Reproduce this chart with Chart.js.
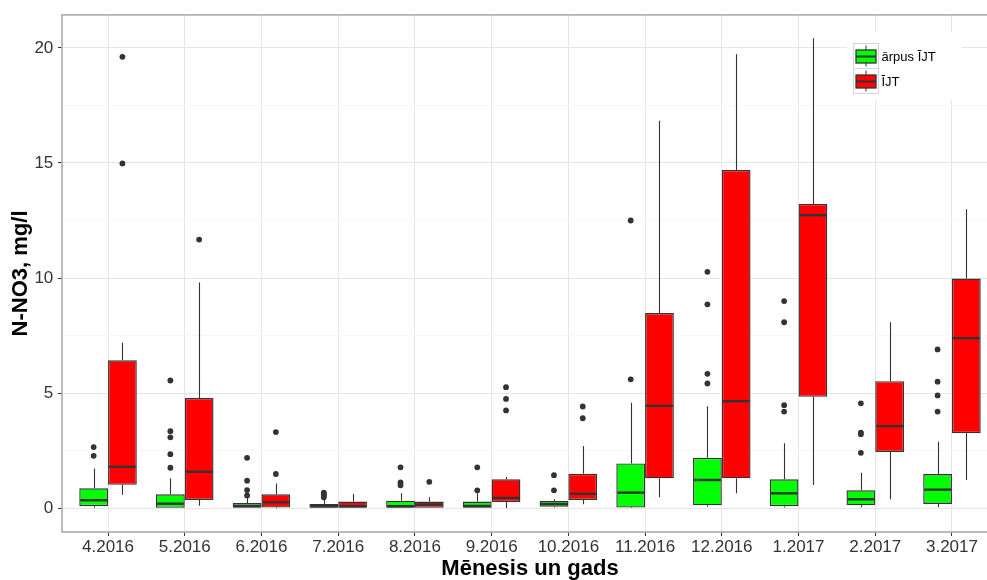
<!DOCTYPE html>
<html>
<head>
<meta charset="utf-8">
<title>N-NO3 pa mēnešiem</title>
<script src="https://cdn.jsdelivr.net/npm/chart.js@4"></script>
<style>
  html, body { margin: 0; padding: 0; overflow: hidden; background: #fff; }
  #wrap { position: relative; width: 1010px; height: 580px; }
</style>
</head>
<body>
<div id="wrap"><canvas id="chart"></canvas></div>
<script>
// Months on the x axis
const months = ['4.2016', '5.2016', '6.2016', '7.2016', '8.2016', '9.2016',
                '10.2016', '11.2016', '12.2016', '1.2017', '2.2017', '3.2017'];

// Y axis breaks (major labelled, minor only as grid lines)
const yMajorTicks = [0, 5, 10, 15, 20];
const yMinorTicks = [2.5, 7.5, 12.5, 17.5];

// "ārpus ĪJT" box statistics, mg/l
const arpusLow    = [0.02, 0.00, 0.00, 0.00, 0.00, 0.00, 0.03, 0.01, 0.07, 0.03, 0.05, 0.04];
const arpusQ1     = [0.09, 0.00, 0.00, 0.00, 0.00, 0.00, 0.07, 0.03, 0.13, 0.09, 0.13, 0.19];
const arpusMedian = [0.35, 0.20, 0.10, 0.09, 0.09, 0.10, 0.19, 0.68, 1.23, 0.65, 0.39, 0.81];
const arpusQ3     = [0.87, 0.61, 0.23, 0.19, 0.33, 0.29, 0.33, 1.95, 2.19, 1.26, 0.78, 1.49];
const arpusHigh   = [1.73, 1.30, 0.65, 0.36, 0.65, 0.68, 0.40, 4.58, 4.43, 2.82, 1.54, 2.89];
const arpusOutliers = [
  [2.66, 2.28],
  [5.55, 3.35, 3.08, 2.35, 1.76],
  [2.19, 1.20, 0.79, 0.56],
  [0.68, 0.62, 0.55, 0.48],
  [1.78, 1.12, 1.00],
  [1.78, 0.78],
  [1.44, 0.78],
  [12.50, 5.60],
  [10.27, 8.86, 5.84, 5.42],
  [9.00, 8.08, 4.48, 4.20],
  [4.56, 3.28, 3.22, 2.41],
  [6.90, 5.50, 4.90, 4.20]
];

// "ĪJT" box statistics, mg/l
const ijtLow    = [0.59, 0.11, 0.00, 0.00, 0.00, 0.01, 0.17, 0.48, 0.65, 1.01, 0.39, 1.23];
const ijtQ1     = [1.02, 0.36, 0.03, 0.00, 0.00, 0.27, 0.36, 1.30, 1.30, 4.84, 2.45, 3.26];
const ijtMedian = [1.80, 1.59, 0.26, 0.09, 0.16, 0.45, 0.63, 4.45, 4.65, 12.73, 3.57, 7.39];
const ijtQ3     = [6.43, 4.79, 0.61, 0.29, 0.29, 1.26, 1.50, 8.48, 14.69, 13.22, 5.52, 9.98];
const ijtHigh   = [7.19, 9.81, 1.08, 0.62, 0.48, 1.36, 2.71, 16.83, 19.72, 20.42, 8.08, 12.99];
const ijtOutliers = [
  [19.61, 14.98],
  [11.67],
  [3.31, 1.49],
  [],
  [1.15],
  [5.26, 4.75, 4.25],
  [4.42, 3.91],
  [], [], [], [], []
];

const FONT = "'Liberation Sans', Arial, sans-serif";
const INK = '#333333';
const GREEN = '#00ff00';
const RED = '#ff0000';

Chart.defaults.font.family = FONT;

const series = [
  { label: 'ārpus ĪJT', color: GREEN, q1: arpusQ1, q3: arpusQ3, median: arpusMedian, low: arpusLow, high: arpusHigh, outliers: arpusOutliers },
  { label: 'ĪJT',       color: RED,   q1: ijtQ1,   q3: ijtQ3,   median: ijtMedian,   low: ijtLow,   high: ijtHigh,   outliers: ijtOutliers }
];

// Whiskers behind the boxes; medians and outlier dots on top
const boxplotParts = {
  id: 'boxplotParts',
  beforeDatasetsDraw(chart) {
    const { ctx, chartArea, scales: { y } } = chart;
    ctx.save();
    ctx.beginPath();
    ctx.rect(chartArea.left, chartArea.top, chartArea.right - chartArea.left, chartArea.bottom - chartArea.top);
    ctx.clip();
    ctx.strokeStyle = INK;
    ctx.lineWidth = 1.1;
    series.forEach((s, di) => {
      chart.getDatasetMeta(di).data.forEach((bar, i) => {
        const x = Math.round(bar.x) + 0.5;
        ctx.beginPath();
        ctx.moveTo(x, y.getPixelForValue(s.q3[i]));
        ctx.lineTo(x, y.getPixelForValue(s.high[i]));
        ctx.moveTo(x, y.getPixelForValue(s.q1[i]));
        ctx.lineTo(x, y.getPixelForValue(s.low[i]));
        ctx.stroke();
      });
    });
    ctx.restore();
  },
  afterDatasetsDraw(chart) {
    const { ctx, scales: { y } } = chart;
    ctx.save();
    series.forEach((s, di) => {
      chart.getDatasetMeta(di).data.forEach((bar, i) => {
        const half = bar.width / 2;
        const my = y.getPixelForValue(s.median[i]);
        ctx.strokeStyle = INK;
        ctx.lineWidth = 2.4;
        ctx.beginPath();
        ctx.moveTo(bar.x - half + 1, my);
        ctx.lineTo(bar.x + half - 1, my);
        ctx.stroke();
        ctx.fillStyle = INK;
        s.outliers[i].forEach(v => {
          ctx.beginPath();
          ctx.arc(bar.x, y.getPixelForValue(v), 2.9, 0, Math.PI * 2);
          ctx.fill();
        });
      });
    });
    ctx.restore();
  }
};

// Panel frame and the boxplot-glyph legend
const panelDecor = {
  id: 'panelDecor',
  afterDraw(chart) {
    const { ctx, chartArea: a } = chart;
    ctx.save();
    ctx.strokeStyle = '#ababab';
    ctx.lineWidth = 1.6;
    ctx.strokeRect(a.left, a.top, a.right - a.left, a.bottom - a.top);

    // legend panel
    const lx = 847, ly = 32;
    ctx.fillStyle = '#ffffff';
    ctx.fillRect(lx, ly, 115, 68);
    const keyX = 853.5, keyW = 25, keyH = 25;
    series.forEach((s, k) => {
      const ky = 43.5 + k * keyH;
      ctx.fillStyle = '#ffffff';
      ctx.fillRect(keyX, ky, keyW, keyH);
      ctx.strokeStyle = '#d6d6d6';
      ctx.lineWidth = 1;
      ctx.strokeRect(keyX, ky, keyW, keyH);
      const cx = keyX + keyW / 2;
      ctx.strokeStyle = INK;
      ctx.lineWidth = 1;
      ctx.beginPath();
      ctx.moveTo(cx, ky + 2);
      ctx.lineTo(cx, ky + keyH - 2);
      ctx.stroke();
      ctx.fillStyle = s.color;
      ctx.fillRect(keyX + 2.5, ky + 6.5, keyW - 5, 13);
      ctx.lineWidth = 1.3;
      ctx.strokeRect(keyX + 2.5, ky + 6.5, keyW - 5, 13);
      ctx.lineWidth = 2;
      ctx.beginPath();
      ctx.moveTo(keyX + 2.5, ky + 13);
      ctx.lineTo(keyX + keyW - 2.5, ky + 13);
      ctx.stroke();
      ctx.fillStyle = '#000';
      ctx.font = '13px ' + FONT;
      ctx.textBaseline = 'middle';
      ctx.textAlign = 'left';
      ctx.fillText(s.label, keyX + keyW + 3, ky + keyH / 2 + 1);
    });
    ctx.restore();
  }
};

new Chart(document.getElementById('chart'), {
  type: 'bar',
  data: {
    datasets: series.map(s => ({
      label: s.label,
      data: months.map((m, i) => ({ x: i, y: [s.q1[i], s.q3[i]] })),
      backgroundColor: s.color,
      borderColor: INK,
      borderWidth: 1.4,
      borderSkipped: false,
      categoryPercentage: 0.75,
      barPercentage: 1
    }))
  },
  options: {
    responsive: true,
    maintainAspectRatio: false,
    animation: false,
    layout: { padding: { top: 14, right: 12, left: 0, bottom: 0 } },
    plugins: { legend: { display: false }, tooltip: { enabled: false } },
    scales: {
      x: {
        type: 'linear',
        min: -0.6,
        max: 11.6,
        offset: false,
        afterBuildTicks: s => { s.ticks = months.map((m, i) => ({ value: i })); },
        afterFit: s => { s.height = 48; },
        grid: { offset: false, color: '#e5e5e5', lineWidth: 1, tickColor: INK, tickLength: 4 },
        border: { display: false },
        ticks: {
          autoSkip: false, maxRotation: 0, minRotation: 0, padding: 1.5,
          color: INK, font: { size: 17 },
          callback: v => months[Math.round(v)]
        },
        title: {
          display: true, text: 'Mēnesis un gads', color: '#000',
          font: { size: 22, weight: 'bold', lineHeight: 1 },
          padding: { top: 0, bottom: 0 }
        }
      },
      y: {
        min: -1.03,
        max: 21.43,
        afterBuildTicks: s => {
          s.ticks = yMajorTicks.concat(yMinorTicks).sort((a, b) => a - b).map(v => ({ value: v }));
        },
        afterFit: s => { s.width = 62; },
        grid: {
          color: c => (c.tick && yMajorTicks.includes(c.tick.value)) ? '#e5e5e5' : '#f7f7f7',
          tickColor: c => (c.tick && yMajorTicks.includes(c.tick.value)) ? INK : 'rgba(0,0,0,0)',
          tickLength: 4
        },
        border: { display: false },
        ticks: {
          padding: 4.7, color: INK, font: { size: 17 },
          callback: v => yMajorTicks.includes(v) ? String(v) : ''
        },
        title: {
          display: true, text: 'N-NO3, mg/l', color: '#000',
          font: { size: 22, weight: 'bold', lineHeight: 1 },
          padding: { top: 10, bottom: 0 }
        }
      }
    }
  },
  plugins: [boxplotParts, panelDecor]
});
</script>
</body>
</html>
